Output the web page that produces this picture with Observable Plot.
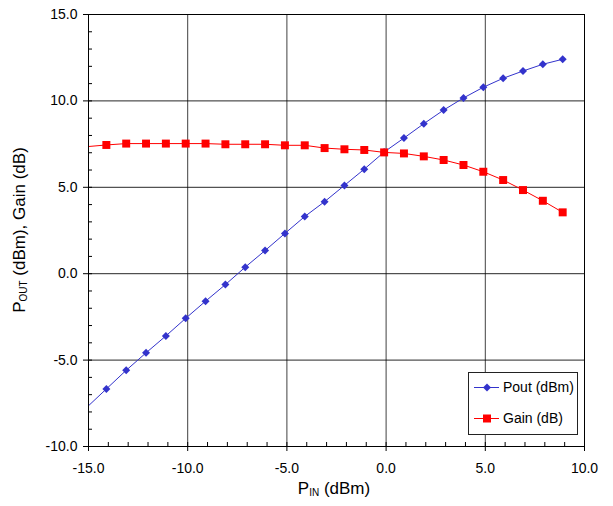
<!DOCTYPE html>
<html>
<head>
<meta charset="utf-8">
<script src="https://cdn.jsdelivr.net/npm/d3@7"></script>
<script src="https://cdn.jsdelivr.net/npm/@observablehq/plot@0.6"></script>
<style>
  html, body { margin: 0; padding: 0; background: #fff; }
  #chart { width: 613px; height: 506px; }
</style>
</head>
<body>
<div id="chart"></div>
<script>
// Input power (dBm); first value lies just left of the axis and only feeds the clipped line
const pin = [-15.1, -14.1, -13.1, -12.1, -11.1, -10.1, -9.1, -8.1, -7.1, -6.1, -5.1, -4.1, -3.1, -2.1, -1.1, -0.1, 0.9, 1.9, 2.9, 3.9, 4.9, 5.9, 6.9, 7.9, 8.9];
// Output power (dBm)
const pout = [-7.75, -6.67, -5.59, -4.58, -3.60, -2.58, -1.59, -0.63, 0.38, 1.34, 2.33, 3.31, 4.17, 5.11, 6.05, 7.04, 7.85, 8.68, 9.47, 10.17, 10.79, 11.31, 11.73, 12.12, 12.41];
// Gain (dB)
const gain = [7.35, 7.45, 7.53, 7.53, 7.53, 7.53, 7.53, 7.49, 7.49, 7.49, 7.43, 7.43, 7.27, 7.20, 7.16, 7.02, 6.96, 6.79, 6.58, 6.29, 5.90, 5.42, 4.84, 4.22, 3.55];

const xMajor = [-15, -10, -5, 0, 5, 10];
const yMajor = [-10, -5, 0, 5, 10, 15];
const xMinor = d3.range(-15, 10.5, 1);
const yMinor = d3.range(-10, 15.5, 1);
const seriesNames = ["Pout (dBm)", "Gain (dB)"];

const BLUE = "#3333CC";
const RED = "#FF0000";

const rows = pin.map((x, i) => ({x, pout: pout[i], gain: gain[i]}));
const shown = rows.filter(d => d.x >= -15 && d.x <= 10);
const fmt = d => d.toFixed(1);

const chart = Plot.plot({
  width: 613,
  height: 506,
  marginLeft: 88,
  marginRight: 29,
  marginTop: 14,
  marginBottom: 60,
  x: {domain: [-15, 10]},
  y: {domain: [-10, 15]},
  style: {fontFamily: "'Liberation Sans', Arial, sans-serif", fontSize: "14px", color: "#000", background: "#fff"},
  marks: [
    Plot.gridX([-10, -5, 0, 5], {stroke: "#000", strokeOpacity: 0.75, strokeWidth: 1}),
    Plot.gridY([-5, 0, 5, 10], {stroke: "#000", strokeOpacity: 0.85, strokeWidth: 1}),
    Plot.axisX(xMinor, {tickSize: -4, tickFormat: () => "", label: null, stroke: "#000"}),
    Plot.axisY(yMinor, {tickSize: -4, tickFormat: () => "", label: null, stroke: "#000"}),
    Plot.axisX(xMajor, {tickSize: 5, tickPadding: 12, tickFormat: fmt, label: null, stroke: "#000", fill: "#000"}),
    Plot.axisY(yMajor, {tickSize: 5, tickPadding: 6, tickFormat: fmt, label: null, stroke: "#000", fill: "#000"}),
    Plot.line(rows, {x: "x", y: "pout", stroke: BLUE, strokeWidth: 1, clip: true}),
    Plot.line(rows, {x: "x", y: "gain", stroke: RED, strokeWidth: 1, clip: true}),
    Plot.dot(shown, {x: "x", y: "pout", symbol: "diamond2", r: 3.6, fill: BLUE, stroke: null}),
    Plot.dot(shown, {x: "x", y: "gain", symbol: "square", r: 4.5, fill: RED, stroke: null}),
    Plot.frame({stroke: "#000", strokeWidth: 1})
  ]
});

document.getElementById("chart").appendChild(chart);

// Axis titles and legend
const svg = d3.select(chart);
const font = "'Liberation Sans', Arial, sans-serif";

const xt = svg.append("text")
  .attr("x", 334).attr("y", 494)
  .attr("text-anchor", "middle")
  .attr("font-family", font).attr("font-size", 17).attr("fill", "#000");
xt.append("tspan").text("P");
xt.append("tspan").attr("font-size", 10).attr("dy", 2).text("IN");
xt.append("tspan").attr("dy", -2).text(" (dBm)");

const yt = svg.append("text")
  .attr("transform", "translate(25,230) rotate(-90)")
  .attr("text-anchor", "middle")
  .attr("font-family", font).attr("font-size", 17).attr("fill", "#000");
yt.append("tspan").text("P");
yt.append("tspan").attr("font-size", 10).attr("dy", 2).text("OUT");
yt.append("tspan").attr("dy", -2).text(" (dBm), Gain (dB)");

const lg = svg.append("g").attr("transform", "translate(468,372)");
lg.append("rect").attr("x", 0.5).attr("y", 0.5).attr("width", 109).attr("height", 62)
  .attr("fill", "#fff").attr("stroke", "#222").attr("stroke-width", 1);
const items = [
  {name: seriesNames[0], color: BLUE, sym: d3.symbolDiamond2, size: 40.8, y: 15.5},
  {name: seriesNames[1], color: RED, sym: d3.symbolSquare, size: 64, y: 46.5}
];
items.forEach(it => {
  const g = lg.append("g").attr("transform", `translate(0,${it.y})`);
  g.append("line").attr("x1", 6).attr("x2", 31).attr("y1", 0).attr("y2", 0)
    .attr("stroke", it.color).attr("stroke-width", 1);
  g.append("path").attr("d", d3.symbol(it.sym, it.size)()).attr("transform", "translate(19,0)")
    .attr("fill", it.color);
  g.append("text").attr("x", 35).attr("y", 0).attr("dy", "0.35em")
    .attr("text-anchor", "start")
    .attr("font-family", font).attr("font-size", 14).attr("fill", "#000").text(it.name);
});
</script>
</body>
</html>
